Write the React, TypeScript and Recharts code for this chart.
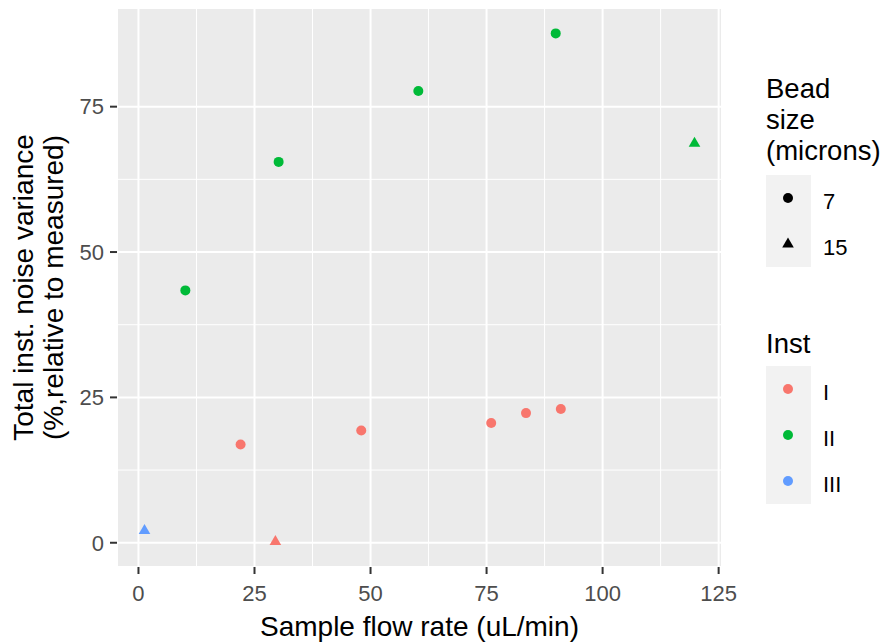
import React from "react"
import {
  ScatterChart,
  Scatter,
  XAxis,
  YAxis,
  CartesianGrid,
  ReferenceLine,
  Label,
} from "recharts"

// one entry per measurement
const flowRate = [22, 48, 76, 83.5, 91, 29.5, 10.1, 30.2, 60.3, 89.9, 119.8, 1.3]
const noiseVar = [16.9, 19.3, 20.6, 22.3, 23.0, 0.2, 43.4, 65.5, 77.7, 87.6, 68.7, 2.1]
const inst = ["I", "I", "I", "I", "I", "I", "II", "II", "II", "II", "II", "III"]
const bead = [7, 7, 7, 7, 7, 15, 7, 7, 7, 7, 15, 15]

const instLevels = ["I", "II", "III"]
const instColors = ["#F8766D", "#00BA38", "#619CFF"]
const beadLevels = [7, 15]

const xTicks = [0, 25, 50, 75, 100, 125]
const yTicks = [0, 25, 50, 75]

const FONT = "'Liberation Sans', Arial, sans-serif"

const expand = (v: number[]): [number, number] => {
  const lo = Math.min(...v)
  const hi = Math.max(...v)
  const pad = (hi - lo) * 0.05
  return [lo - pad, hi + pad]
}
const xDomain = expand(flowRate)
const yDomain = expand(noiseVar)

const minor = (t: number[]) => t.slice(1).map((v, i) => (v + t[i]) / 2)
const xMinor = minor(xTicks)
const yMinor = minor(yTicks)

const Dot = (p: any) => <circle cx={p.cx} cy={p.cy} r={5} fill={p.fill} />
const Tri = (p: any) => (
  <path
    d={`M${p.cx},${p.cy - 6.6}L${p.cx - 5.8},${p.cy + 3.4}L${p.cx + 5.8},${p.cy + 3.4}Z`}
    fill={p.fill}
  />
)

const series = instLevels.flatMap((lvl, i) =>
  beadLevels.map((b) => ({
    key: `${lvl}-${b}`,
    color: instColors[i],
    bead: b,
    data: flowRate
      .map((x, k) => ({ x, y: noiseVar[k], inst: inst[k], bead: bead[k] }))
      .filter((d) => d.inst === lvl && d.bead === b),
  }))
).filter((s) => s.data.length > 0)

const YTitle = (props: any) => {
  const vb = props.viewBox
  const cy = vb.y + vb.height / 2
  return (
    <text
      transform={`translate(33,${cy}) rotate(-90)`}
      textAnchor="middle"
      fontSize={28}
      fontFamily={FONT}
      fill="#000"
    >
      <tspan x={0} y={0}>Total inst. noise variance</tspan>
      <tspan x={0} y={30}>(%,relative to measured)</tspan>
    </text>
  )
}

function LegendBox() {
  const keyH = 46
  return (
    <svg
      width={893}
      height={643}
      style={{ position: "absolute", left: 0, top: 0, pointerEvents: "none" }}
      fontFamily={FONT}
    >
      <text fontSize={27.5} fill="#000">
        <tspan x={766} y={98}>Bead</tspan>
        <tspan x={766} y={129}>size</tspan>
        <tspan x={766} y={160}>(microns)</tspan>
      </text>
      <rect x={766} y={175} width={45} height={keyH * beadLevels.length} fill="#F2F2F2" />
      {beadLevels.map((b, i) => {
        const cy = 175 + keyH * i + keyH / 2
        return (
          <g key={b}>
            {b === 7 ? <Dot cx={788} cy={cy} fill="#000" /> : <Tri cx={788} cy={cy} fill="#000" />}
            <text x={823} y={cy + 11} fontSize={22} fill="#000">{b}</text>
          </g>
        )
      })}
      <text x={766} y={353} fontSize={27.5} fill="#000">Inst</text>
      <rect x={766} y={366} width={45} height={keyH * instLevels.length} fill="#F2F2F2" />
      {instLevels.map((lvl, i) => {
        const cy = 366 + keyH * i + keyH / 2
        return (
          <g key={lvl}>
            <Dot cx={788} cy={cy} fill={instColors[i]} />
            <text x={823} y={cy + 11} fontSize={22} fill="#000">{lvl}</text>
          </g>
        )
      })}
    </svg>
  )
}

export default function App() {
  return (
    <div style={{ position: "absolute", left: 0, top: 0, width: 893, height: 643, background: "#fff" }}>
      <ScatterChart
        width={893}
        height={643}
        margin={{ top: 8, right: 171, bottom: 0, left: 0 }}
      >
        <CartesianGrid
          fill="#EBEBEB"
          stroke="#FFFFFF"
          strokeWidth={2}
          strokeOpacity={1}
        />
        {xMinor.map((v) => (
          <ReferenceLine key={`xm${v}`} x={v} stroke="#FFFFFF" strokeWidth={1} />
        ))}
        {yMinor.map((v) => (
          <ReferenceLine key={`ym${v}`} y={v} stroke="#FFFFFF" strokeWidth={1} />
        ))}
        <XAxis
          type="number"
          dataKey="x"
          domain={xDomain}
          ticks={xTicks}
          allowDataOverflow
          height={76}
          axisLine={false}
          tickLine={{ stroke: "#333333", strokeWidth: 2 }}
          tickSize={7}
          tickMargin={11}
          tick={{ fill: "#4D4D4D", fontSize: 22, fontFamily: FONT }}
        >
          <Label
            value="Sample flow rate (uL/min)"
            position="insideBottom"
            offset={7}
            fill="#000"
            fontSize={28}
            fontFamily={FONT}
          />
        </XAxis>
        <YAxis
          type="number"
          dataKey="y"
          domain={yDomain}
          ticks={yTicks}
          allowDataOverflow
          width={117}
          axisLine={false}
          tickLine={{ stroke: "#333333", strokeWidth: 2 }}
          tickSize={7}
          tickMargin={6}
          tick={{ fill: "#4D4D4D", fontSize: 22, fontFamily: FONT }}
        >
          <Label content={YTitle} />
        </YAxis>
        {series.map((s) => (
          <Scatter
            key={s.key}
            data={s.data}
            fill={s.color}
            shape={s.bead === 7 ? Dot : Tri}
            isAnimationActive={false}
          />
        ))}
      </ScatterChart>
      <LegendBox />
    </div>
  )
}
